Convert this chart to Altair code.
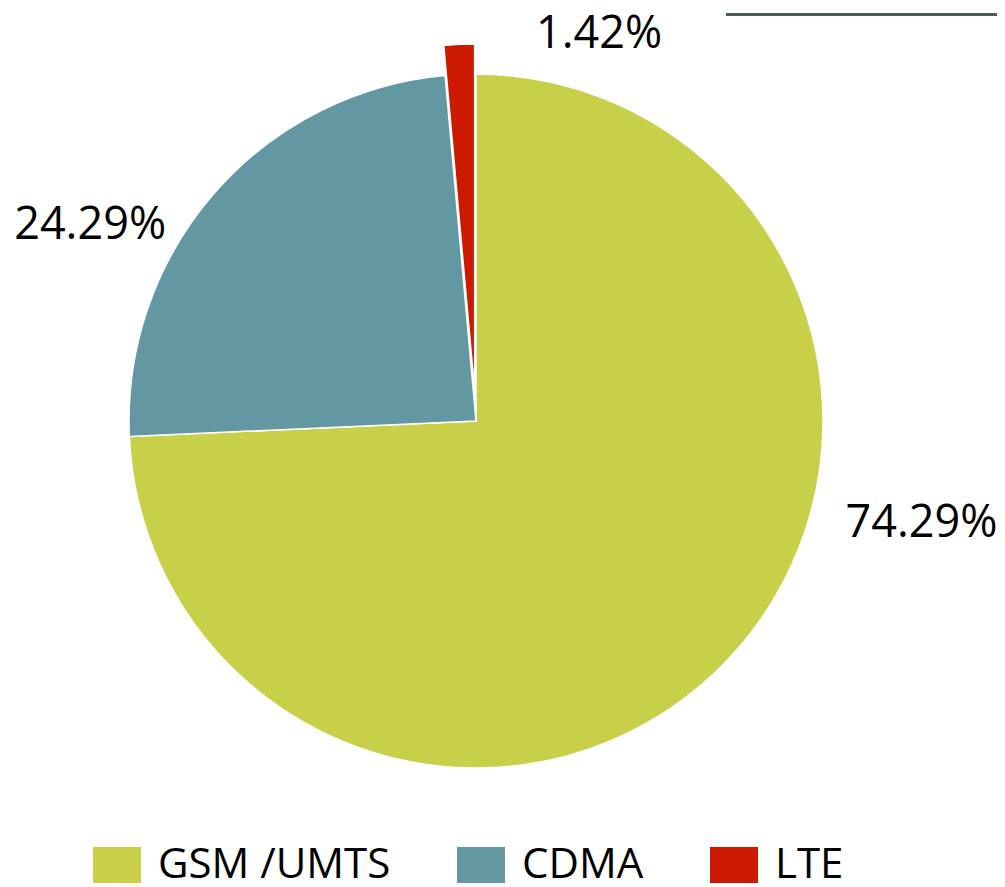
import math
import altair as alt
import pandas as pd

# ---- data ----
categories = ["GSM /UMTS", "CDMA", "LTE"]
shares = [74.29, 24.29, 1.42]
labels = ["74.29%", "24.29%", "1.42%"]
colors = ["#C8CF48", "#6398A3", "#CC1A00"]

df = pd.DataFrame({"cat": categories, "share": shares, "label": labels,
                   "idx": list(range(len(categories)))})

# ---- layout ----
W, H = 989, 879
CX, CY, R = 468, 413, 347
EXPLODE = 30
FONT = "Open Sans"
# label placement: (angle offset in share units, radius px)
label_layout = {"GSM /UMTS": (-8.56, 457), "CDMA": (-3.94, 433), "LTE": (5.61, 406)}

# explode offset for LTE computed from its mid angle
total = sum(shares)
lte_mid = (sum(shares[:2]) + shares[2] / 2) / total * 2 * math.pi
ex_dx = EXPLODE * math.sin(lte_mid)
ex_dy = -EXPLODE * math.cos(lte_mid)

color = alt.Color(
    "cat:N",
    scale=alt.Scale(domain=categories, range=colors),
    legend=alt.Legend(
        title=None, orient="none", legendX=85, legendY=833, direction="horizontal",
        symbolType="M-1,-0.75L1,-0.75L1,0.75L-1,0.75Z", symbolSize=2304,
        symbolStrokeWidth=0, symbolOpacity=1,
        labelFont=FONT, labelFontSize=42, labelColor="black",
        labelOffset=17, columnPadding=66, labelLimit=500, padding=0,
    ),
)

base = alt.Chart(df)

pie = base.mark_arc(radius=R, stroke="white", strokeWidth=1.5).encode(
    theta=alt.Theta("share:Q", stack=True),
    color=color,
    order=alt.Order("idx:Q"),
    opacity=alt.condition(alt.datum.cat == "LTE", alt.value(0), alt.value(1)),
    x=alt.value(CX), y=alt.value(CY),
)

lte = base.mark_arc(radius=R, stroke="white", strokeWidth=1.5).encode(
    theta=alt.Theta("share:Q", stack=True),
    color=color,
    order=alt.Order("idx:Q"),
    opacity=alt.condition(alt.datum.cat == "LTE", alt.value(1), alt.value(0)),
    x=alt.value(CX + ex_dx), y=alt.value(CY + ex_dy),
)

text_layers = []
for cat, (off, rad) in label_layout.items():
    t = (
        base.transform_window(cum="sum(share)", sort=[alt.SortField("idx")],
                              frame=[None, 0])
        .transform_calculate(t=f"datum.cum - datum.share / 2 + ({off})")
        .transform_filter(alt.datum.cat == cat)
        .mark_text(radius=rad, font=FONT, fontSize=45, color="black",
                   align="center", baseline="middle")
        .encode(
            theta=alt.Theta("t:Q", scale=alt.Scale(domain=[0, 100])),
            text="label:N",
            x=alt.value(CX), y=alt.value(CY),
        )
    )
    text_layers.append(t)

line = alt.Chart(pd.DataFrame({"a": [0]})).mark_rule(
    color="#415E60", strokeWidth=3
).encode(x=alt.value(718), x2=alt.value(997), y=alt.value(6.5))

chart = (
    alt.layer(pie, lte, *text_layers, line)
    .resolve_scale(theta="independent")
    .properties(width=W, height=H, padding=0, autosize=alt.AutoSizeParams(type="none"))
    .configure_view(stroke=None)
)

chart.save("out.html", embed_options={"renderer": "svg", "actions": False})
